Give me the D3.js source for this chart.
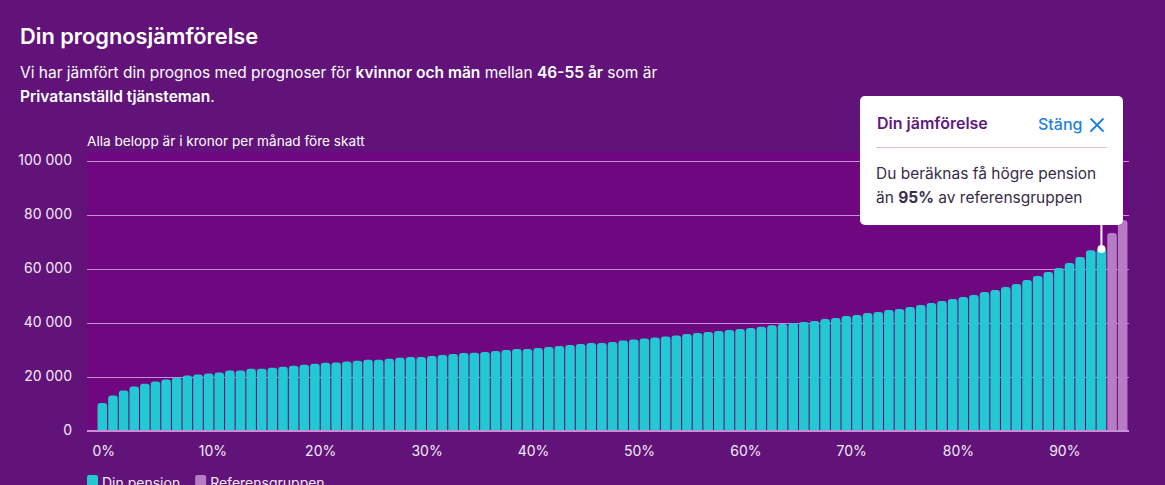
<!DOCTYPE html>
<html>
<head>
<meta charset="utf-8">
<script src="https://cdn.jsdelivr.net/npm/d3@7"></script>
<style>
  html, body { margin: 0; padding: 0; background: #62137a; }
  body { width: 1165px; height: 485px; overflow: hidden; font-family: Inter, "Noto Sans", sans-serif; }
  svg text { font-family: Inter, "Noto Sans", sans-serif; }
</style>
</head>
<body>
<div id="chart"></div>
<script>
// pension per percentile of the reference group (kr / month)
const pension = [
  10230, 12950, 14800, 16280, 17270, 18140, 18880, 19620, 20360, 20730,
  21100, 21470, 22210, 22200, 22830, 22830, 23200, 23570, 23950, 24320,
  24690, 25060, 25180, 25560, 25850, 26200, 26200, 26530, 26900, 27260,
  27260, 27630, 28000, 28370, 28740, 28800, 29110, 29480, 29850, 30220,
  30220, 30590, 30960, 31330, 31700, 32070, 32440, 32440, 32810, 33330,
  33700, 34070, 34440, 34810, 35180, 35780, 36150, 36520, 36890, 37260,
  37630, 38000, 38400, 39000, 39490, 39860, 40230, 40600, 41330, 41700,
  42440, 42810, 43560, 43930, 44670, 45040, 45780, 46520, 47260, 48000,
  48740, 49480, 50220, 51330, 52070, 53190, 54300, 55780, 57260, 58740,
  60220, 62070, 64300, 66780, 67200
];
// the part of the reference group above you
const referens = [73190, 77890];

const yTicks = [0, 20000, 40000, 60000, 80000, 100000];
const xTickLabels = ["0%", "10%", "20%", "30%", "40%", "50%", "60%", "70%", "80%", "90%"];
const legendItems = ["Din pension", "Referensgruppen"];

const W = 1165, H = 485;
const plot = { left: 87, right: 1129, top: 152, bottom: 431 };

const bars = pension.map((v, i) => ({ i, v, group: "Din pension" }))
  .concat(referens.map((v, j) => ({ i: pension.length + j, v, group: "Referensgruppen" })));

const color = d3.scaleOrdinal()
  .domain(legendItems)
  .range(["#22c9d3", "#b67cc4"]);

const svg = d3.select("#chart").append("svg")
  .attr("width", W)
  .attr("height", H);

// title + intro
svg.append("text")
  .attr("x", 20).attr("y", 44)
  .attr("fill", "#fff")
  .style("font-size", "21.8px")
  .style("font-weight", 600)
  .text("Din prognosjämförelse");

const intro = [
  [["Vi har jämfört din prognos med prognoser för ", 400], ["kvinnor och män", 600], [" mellan ", 400], ["46-55 år", 600], [" som är", 400]],
  [["Privatanställd tjänsteman", 600], [".", 400]]
];
intro.forEach((line, li) => {
  const t = svg.append("text")
    .attr("x", 20).attr("y", 78 + li * 24)
    .attr("fill", "#fff")
    .style("font-size", "15.5px");
  line.forEach(([s, w]) => t.append("tspan").style("font-weight", w).text(s));
});

// plot background
svg.append("rect")
  .attr("x", plot.left).attr("y", plot.top)
  .attr("width", plot.right - plot.left)
  .attr("height", plot.bottom - plot.top)
  .attr("fill", "#6f0880");

svg.append("text")
  .attr("x", plot.left).attr("y", 146)
  .attr("fill", "#fff")
  .style("font-size", "13.6px")
  .text("Alla belopp är i kronor per månad före skatt");

const x = d3.scaleBand()
  .domain(bars.map(d => d.i))
  .range([97, 1128])
  .paddingInner(0.1)
  .paddingOuter(0.05);

const y = d3.scaleLinear()
  .domain([0, 100000])
  .range([430.5, 160.5]);

const fmt = v => d3.format(",")(v).replace(/,/g, " ");

// y axis + grid
const yAxis = svg.append("g")
  .attr("transform", `translate(${plot.left},0)`)
  .call(d3.axisLeft(y).tickValues(yTicks).tickSize(0).tickPadding(15).tickFormat(fmt));
yAxis.select(".domain").remove();
yAxis.selectAll("text")
  .attr("fill", "#f3eaf6")
  .style("font-size", "14px");

svg.append("g")
  .selectAll("line")
  .data(yTicks)
  .join("line")
    .attr("x1", plot.left).attr("x2", plot.right)
    .attr("y1", d => Math.round(y(d)) + 0.5)
    .attr("y2", d => Math.round(y(d)) + 0.5)
    .attr("stroke", "#c590d6")
    .attr("stroke-width", 1);

// bars with rounded tops
const r = 3;
function barPath(d) {
  const x0 = x(d.i), w = x.bandwidth(), y0 = y(d.v), yb = y(0);
  return `M${x0},${yb}V${y0 + r}Q${x0},${y0} ${x0 + r},${y0}H${x0 + w - r}Q${x0 + w},${y0} ${x0 + w},${y0 + r}V${yb}Z`;
}
svg.append("g")
  .selectAll("path")
  .data(bars)
  .join("path")
    .attr("d", barPath)
    .attr("fill", d => color(d.group));

// baseline
svg.append("line")
  .attr("x1", plot.left).attr("x2", plot.right)
  .attr("y1", 430.5).attr("y2", 430.5)
  .attr("stroke", "#c590d6");

// x axis labels
const xAxis = svg.append("g")
  .attr("transform", `translate(0,${plot.bottom})`)
  .call(d3.axisBottom(x)
    .tickValues(xTickLabels.map((_, k) => k * 10))
    .tickSize(0)
    .tickPadding(15)
    .tickFormat((d, k) => xTickLabels[k]));
xAxis.select(".domain").remove();
xAxis.selectAll("text")
  .attr("text-anchor", "start")
  .attr("dx", -x.bandwidth() / 2 - 5)
  .attr("fill", "#f3eaf6")
  .style("font-size", "14px");

// legend (cut at the bottom edge, as in the original)
const legend = svg.append("g").attr("transform", "translate(87,475)");
let lx = 0;
legendItems.forEach(name => {
  const g = legend.append("g").attr("transform", `translate(${lx},0)`);
  g.append("rect").attr("width", 11).attr("height", 14).attr("rx", 2).attr("fill", color(name));
  const t = g.append("text").attr("x", 15).attr("y", 13)
    .attr("fill", "#f3eaf6").style("font-size", "14px").text(name);
  lx += 15 + t.node().getComputedTextLength() + 15;
});

// tooltip
const last = bars[pension.length - 1];
const cx = x(last.i) + x.bandwidth() / 2;
const tip = { x: 860, y: 96, w: 263, h: 129 };

svg.append("line")
  .attr("x1", cx).attr("x2", cx)
  .attr("y1", tip.y + tip.h).attr("y2", y(last.v))
  .attr("stroke", "#fff").attr("stroke-width", 2);
svg.append("circle")
  .attr("cx", cx).attr("cy", y(last.v))
  .attr("r", 4)
  .attr("fill", "#fff");

const tg = svg.append("g").attr("transform", `translate(${tip.x},${tip.y})`);
tg.append("rect")
  .attr("width", tip.w).attr("height", tip.h)
  .attr("rx", 5).attr("fill", "#fff");
tg.append("text")
  .attr("x", 17).attr("y", 33)
  .attr("fill", "#5f1a7c")
  .style("font-size", "16px").style("font-weight", 600)
  .text("Din jämförelse");
tg.append("text")
  .attr("x", 178).attr("y", 34)
  .attr("fill", "#1f7fe0")
  .style("font-size", "16px").style("font-weight", 500)
  .text("Stäng");
tg.append("path")
  .attr("d", "M231,23L243,35M243,23L231,35")
  .attr("stroke", "#1f7fe0").attr("stroke-width", 1.8)
  .attr("stroke-linecap", "round");
tg.append("line")
  .attr("x1", 16).attr("x2", 247)
  .attr("y1", 51.5).attr("y2", 51.5)
  .attr("stroke", "#e2b8ef");
tg.append("text")
  .attr("x", 16).attr("y", 83)
  .attr("fill", "#3b2b48")
  .style("font-size", "15.5px")
  .text("Du beräknas få högre pension");
const l2 = tg.append("text")
  .attr("x", 16).attr("y", 107)
  .attr("fill", "#3b2b48")
  .style("font-size", "15.5px");
l2.append("tspan").text("än ");
l2.append("tspan").style("font-weight", 700).text("95%");
l2.append("tspan").text(" av referensgruppen");
</script>
</body>
</html>
